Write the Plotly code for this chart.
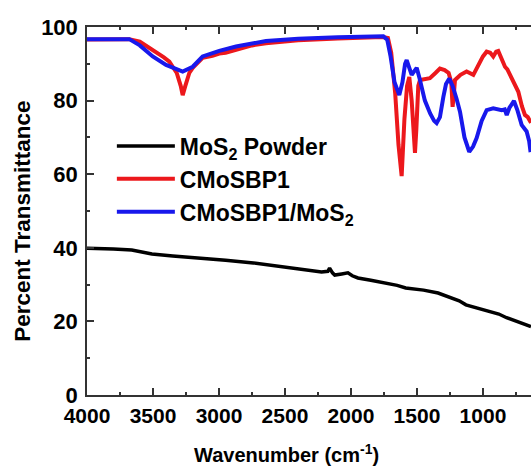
import plotly.graph_objects as go

# Wavenumber (cm^-1) and percent transmittance
mos2_wn = [4000, 3900, 3800, 3661, 3508, 3350, 3124, 2950, 2739, 2550, 2355, 2223, 2175, 2162, 2140, 2123, 2070, 2023, 1990, 1947, 1850, 1717, 1650, 1585, 1450, 1340, 1250, 1180, 1129, 1050, 952, 880, 821, 740, 667, 636]
mos2_t = [39.9, 39.9, 39.7, 39.4, 38.3, 37.8, 37.2, 36.6, 35.9, 35.0, 34.0, 33.4, 33.6, 34.5, 33.2, 32.6, 32.9, 33.2, 32.4, 31.8, 31.2, 30.4, 29.8, 29.1, 28.5, 27.7, 26.6, 25.6, 24.5, 23.7, 22.6, 22.0, 21.0, 20.0, 19.0, 18.6]

cmosbp1_wn = [4000, 3800, 3680, 3600, 3502, 3420, 3376, 3320, 3290, 3275, 3255, 3225, 3199, 3124, 3050, 2998, 2950, 2910, 2871, 2750, 2644, 2400, 2100, 1856, 1760, 1720, 1695, 1665, 1640, 1616, 1595, 1575, 1558, 1540, 1525, 1515, 1505, 1490, 1477, 1440, 1402, 1360, 1326, 1290, 1260, 1240, 1230, 1220, 1212, 1170, 1124, 1073, 1050, 1023, 1000, 972, 945, 922, 900, 884, 860, 833, 815, 795, 765, 732, 705, 682, 660, 644, 636]
cmosbp1_t = [96.6, 96.7, 96.7, 96.0, 93.8, 91.8, 90.6, 87.5, 84.0, 81.5, 84.0, 87.5, 88.9, 91.6, 92.2, 92.8, 93.0, 93.4, 94.0, 95.0, 95.6, 96.4, 96.9, 97.3, 97.3, 97.0, 93.0, 82.0, 68.0, 59.5, 75.0, 84.0, 86.4, 80.0, 70.0, 65.8, 72.0, 84.0, 85.6, 85.8, 86.1, 87.5, 88.7, 88.3, 87.5, 85.0, 78.3, 82.0, 85.6, 87.0, 87.9, 87.0, 88.5, 90.6, 92.0, 93.3, 93.0, 92.0, 93.3, 93.5, 91.5, 89.2, 88.5, 87.0, 85.0, 82.4, 78.5, 76.1, 75.5, 74.3, 74.0]

composite_wn = [4000, 3800, 3680, 3600, 3502, 3401, 3330, 3275, 3199, 3124, 2998, 2871, 2644, 2400, 2100, 1856, 1755, 1725, 1700, 1670, 1634, 1610, 1590, 1578, 1560, 1540, 1520, 1502, 1480, 1440, 1400, 1370, 1351, 1326, 1300, 1280, 1255, 1230, 1200, 1174, 1140, 1104, 1075, 1048, 1010, 972, 922, 890, 858, 835, 820, 800, 765, 740, 707, 669, 650, 639]
composite_t = [96.7, 96.8, 96.7, 95.0, 92.0, 89.7, 88.6, 87.9, 89.2, 92.0, 93.5, 94.7, 96.2, 96.8, 97.2, 97.6, 97.5, 96.5, 92.0, 85.0, 81.5, 85.0, 90.0, 91.0, 89.0, 87.0, 88.0, 88.9, 86.0, 80.0, 76.5, 74.5, 73.9, 75.5, 81.0, 84.5, 86.0, 84.0, 80.5, 77.0, 70.0, 66.1, 67.5, 69.8, 74.5, 77.4, 77.9, 77.6, 77.4, 77.6, 76.1, 78.0, 79.9, 77.5, 73.4, 71.6, 69.0, 66.0]

x_ticks = [4000, 3500, 3000, 2500, 2000, 1500, 1000]
y_ticks = [0, 20, 40, 60, 80, 100]

FONT = "Liberation Sans"

fig = go.Figure()
fig.add_trace(go.Scatter(x=mos2_wn, y=mos2_t, mode="lines", name="MoS<sub>2</sub> Powder",
                         line=dict(color="black", width=3.5)))
fig.add_trace(go.Scatter(x=cmosbp1_wn, y=cmosbp1_t, mode="lines", name="CMoSBP1",
                         line=dict(color="rgb(236,24,28)", width=4)))
fig.add_trace(go.Scatter(x=composite_wn, y=composite_t, mode="lines", name="CMoSBP1/MoS<sub>2</sub>",
                         line=dict(color="rgb(24,24,236)", width=4)))

fig.update_layout(
    width=531, height=466, autosize=False,
    margin=dict(l=87, r=0, t=27, b=71),
    paper_bgcolor="white", plot_bgcolor="white",
    font=dict(family=FONT, color="black"),
    showlegend=True,
    legend=dict(x=0.056, y=0.735, xanchor="left", yanchor="top",
                bgcolor="rgba(0,0,0,0)", font=dict(size=23, family=FONT, weight="bold"),
                itemwidth=58, tracegroupgap=0),
    annotations=[
        dict(text="Wavenumber (cm<sup>-1</sup>)", xref="paper", yref="paper",
             x=0.45, y=-0.158, xanchor="center", yanchor="middle", showarrow=False,
             font=dict(size=20, family=FONT, weight="bold")),
        dict(text="Percent Transmittance", xref="paper", yref="paper",
             x=-0.146, y=0.471, xanchor="center", yanchor="middle", showarrow=False,
             textangle=-90, font=dict(size=22.5, family=FONT, weight="bold")),
    ],
)
fig.update_xaxes(
    range=[4000, 636], tickvals=x_ticks, ticktext=[str(v) for v in x_ticks],
    ticks="inside", ticklen=7, tickwidth=1.5, tickcolor="#333",
    minor=dict(dtick=250, ticks="inside", ticklen=3.5, tickwidth=1.5, tickcolor="#333"),
    showline=True, linecolor="#333", linewidth=1.5, mirror="ticks",
    showgrid=False, zeroline=False, automargin=False,
    tickfont=dict(size=21, family=FONT, weight="bold"),
    ticklabelstandoff=1,
)
fig.update_yaxes(
    range=[0, 100], tickvals=y_ticks,
    ticks="inside", ticklen=7, tickwidth=1.5, tickcolor="#333",
    minor=dict(dtick=10, ticks="inside", ticklen=3.5, tickwidth=1.5, tickcolor="#333"),
    showline=True, linecolor="#333", linewidth=1.5,
    showgrid=False, zeroline=False, automargin=False,
    tickfont=dict(size=22, family=FONT, weight="bold"),
    ticklabelstandoff=3,
)

post = ("document.body.style.margin='0';document.body.style.padding='0';"
        "document.body.style.overflow='hidden';"
        "var gd=document.getElementById('{plot_id}');"
        "Plotly.relayout(gd,{width:531,height:466});")
fig.write_html("out.html", config={"responsive": False, "displayModeBar": False}, post_script=post)
